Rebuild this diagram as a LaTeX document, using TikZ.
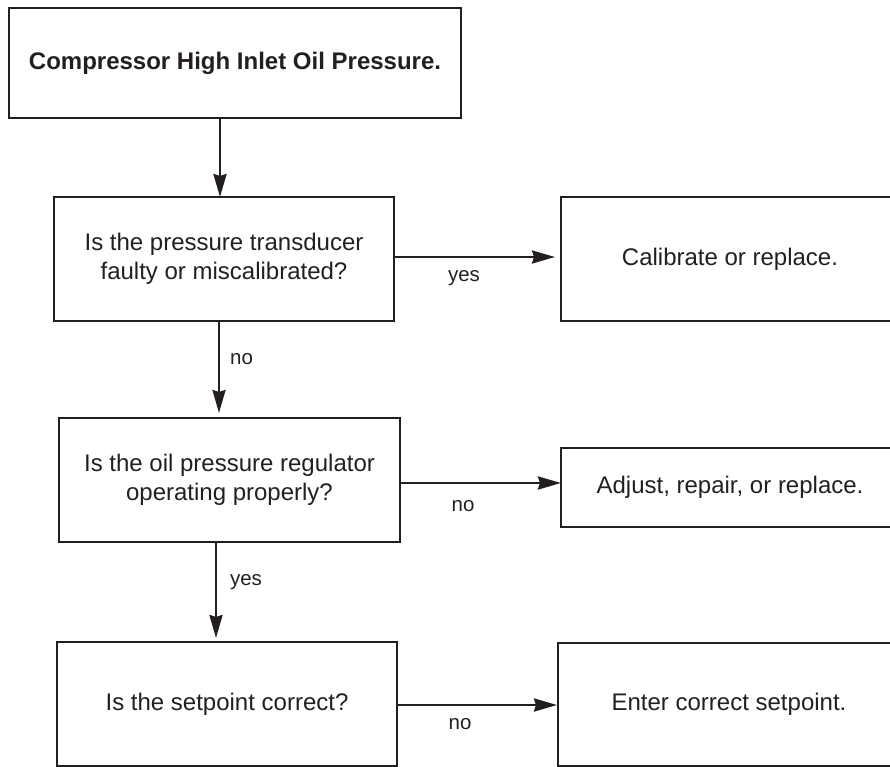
\documentclass[tikz,border=0pt]{standalone}
\usepackage{fontspec}
\setmainfont{Liberation Sans}
\usetikzlibrary{arrows.meta,calc}
\definecolor{ink}{HTML}{231F20}
\tikzset{
  box/.style={draw=ink, line width=1.4pt, rectangle, inner sep=0pt, outer sep=0pt,
    align=center, text=ink, font=\fontsize{24}{29}\selectfont},
  arr/.style={draw=ink, line width=2.6pt, -{Stealth[length=23pt,width=13pt,inset=2pt]}},
  lbl/.style={anchor=base, inner sep=0pt, text=ink, font=\fontsize{20.5}{24}\selectfont}
}
\begin{document}
\begin{tikzpicture}[x=1pt,y=-1pt]
\useasboundingbox (0,0) rectangle (890,767);
\clip (0,0) rectangle (890,767);
\node[box, minimum width=452pt, minimum height=110pt] (b1) at (235,63) {\textbf{Compressor High Inlet Oil Pressure.}};
\node[box, minimum width=340pt, minimum height=124pt] (b2) at (224,259) {Is the pressure transducer\\faulty or miscalibrated?};
\node[box, minimum width=338pt, minimum height=124pt] (b3) at (730,259) {Calibrate or replace.};
\node[box, minimum width=341pt, minimum height=124pt] (b4) at (229.5,480) {Is the oil pressure regulator\\operating properly?};
\node[box, minimum width=338pt, minimum height=79pt] (b5) at (730,487.5) {Adjust, repair, or replace.};
\node[box, minimum width=340pt, minimum height=124pt] (b6) at (227,704) {Is the setpoint correct?};
\node[box, minimum width=342pt, minimum height=123pt] (b7) at (729,704.5) {Enter correct setpoint.};
% vertical connectors
\draw[arr] ([xshift=-15pt]b1.south) -- ([xshift=-15pt]b1.south |- b2.north);
\draw[arr, shorten >=5pt] ([xshift=-5pt]b2.south) -- ([xshift=-5pt]b2.south |- b4.north);
\draw[arr, shorten >=4pt] ([xshift=-13.5pt]b4.south) -- ([xshift=-13.5pt]b4.south |- b6.north);
% horizontal connectors
\draw[arr, shorten >=6pt] ([yshift=2pt]b2.east) -- ([yshift=2pt]b2.east -| b3.west);
\draw[arr] ([yshift=-3pt]b4.east) -- ([yshift=-3pt]b4.east -| b5.west);
\draw[arr, shorten >=1pt] ([yshift=-1pt]b6.east) -- ([yshift=-1pt]b6.east -| b7.west);
% labels
\node[lbl] (l1) at (464,281) {yes};
\node[lbl] (l2) at (241.5,364) {no};
\node[lbl] (l3) at (463,511) {no};
\node[lbl] (l4) at (246,585) {yes};
\node[lbl] (l5) at (460,729) {no};
\end{tikzpicture}
\end{document}
